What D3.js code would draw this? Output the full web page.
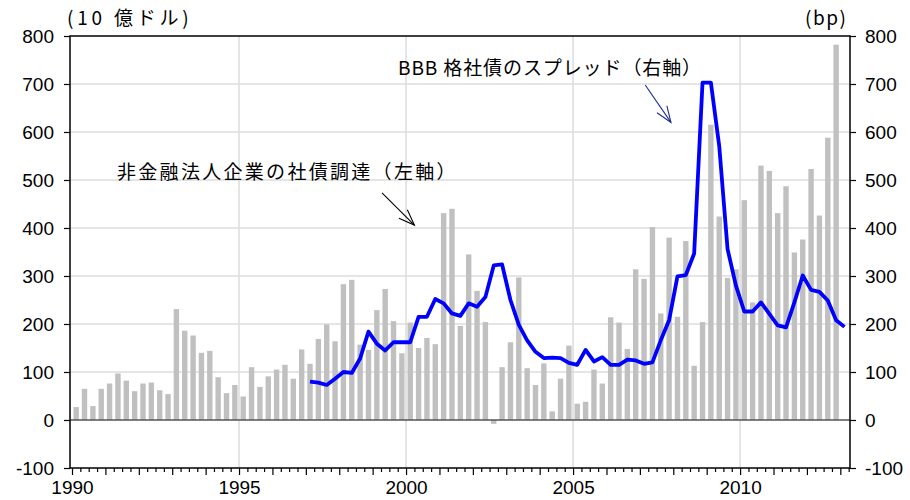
<!DOCTYPE html>
<html><head><meta charset="utf-8">
<script src="https://cdn.jsdelivr.net/npm/d3@7"></script>
<style>body{margin:0;background:#fff}svg{display:block}</style>
</head><body>
<script>
// Quarterly corporate bond issuance of nonfinancial corporations (left axis, $10 billion), 1990Q1..2012Q4
const barStartYear = 1990;
const bondFlows = [
  27, 65, 29, 65,   76, 97, 82, 60,   76, 78, 62, 54,   231, 186, 176, 140,
  144, 89, 56, 73,  49, 110, 69, 91,  105, 115, 86, 147, 117, 169, 199, 164,
  283, 292, 157, 146, 229, 273, 206, 139, 203, 150, 171, 158, 431, 440, 196, 345,
  269, 204, -8, 110, 162, 297, 108, 73, 118, 18, 86, 155, 34, 38, 105, 76,
  214, 203, 148, 314, 294, 402, 222, 380, 215, 373, 113, 204, 615, 424, 296, 314,
  458, 245, 530, 519, 431, 487, 349, 376, 523, 426, 588, 782
];
// BBB corporate bond spread (right axis, bp), 1997Q1..2013Q1
const lineStartYear = 1997;
const bbbSpread = [
  80, 78, 73, 86,  100, 98, 128, 184,  159, 145, 162, 162,  162, 215, 215, 252,
  243, 222, 217, 243, 236, 256, 322, 324, 250, 198, 166, 142, 129, 130, 129, 119,
  115, 146, 122, 131, 115, 115, 126, 124, 117, 120, 166, 208, 299, 302, 347, 703,
  703, 571, 356, 280, 226, 226, 245, 221, 197, 193, 245, 301, 271, 267, 249, 208,
  194
];
const yTicks = [-100, 0, 100, 200, 300, 400, 500, 600, 700, 800];
const gridYears = [1995, 2000, 2005, 2010];
const labelYears = [1990, 1995, 2000, 2005, 2010];
const leftUnit = "(10 億ドル)";
const rightUnit = "(bp)";
const lineLabel = "BBB 格社債のスプレッド（右軸）";
const barLabel = "非金融法人企業の社債調達（左軸）";

const W = 910, H = 500;
const L = 70, R = 850, T = 36, B = 468;
const svg = d3.select("body").append("svg").attr("width", W).attr("height", H)
  .style("font-family", "'Liberation Sans', Arial, sans-serif");

const x = d3.scaleLinear().domain([1989.94, 2013.29]).range([L, R]);
const y = d3.scaleLinear().domain([-100, 800]).range([B, T]);
const yR = d3.scaleLinear().domain([-100, 800]).range([B, T]);

// grid
svg.append("g").selectAll("line").data(yTicks.filter(d => d > 0 && d < 800)).join("line")
  .attr("x1", L).attr("x2", R).attr("y1", d => y(d)).attr("y2", d => y(d))
  .attr("stroke", "#dcdcdc").attr("stroke-width", 1.5);
svg.append("g").selectAll("line").data(gridYears).join("line")
  .attr("x1", d => x(d)).attr("x2", d => x(d)).attr("y1", T).attr("y2", B)
  .attr("stroke", "#dcdcdc").attr("stroke-width", 1.5);

// bars
const bw = 5.4;
svg.append("g").selectAll("rect").data(bondFlows).join("rect")
  .attr("x", (d, i) => x(barStartYear + (i + 0.5) / 4) - bw / 2)
  .attr("width", bw)
  .attr("y", d => y(Math.max(0, d)))
  .attr("height", d => Math.abs(y(d) - y(0)))
  .attr("fill", "#c0c0c0");

// zero line
svg.append("line").attr("x1", L).attr("x2", R).attr("y1", y(0)).attr("y2", y(0))
  .attr("stroke", "#555").attr("stroke-width", 1.6);

// spread line
const line = d3.line().x((d, i) => x(lineStartYear + (i + 0.5) / 4)).y(d => yR(d));
svg.append("path").datum(bbbSpread).attr("d", line)
  .attr("fill", "none").attr("stroke", "#0000ff").attr("stroke-width", 3.8)
  .attr("stroke-linejoin", "round");

// frame
svg.append("rect").attr("x", L).attr("y", T).attr("width", R - L).attr("height", B - T)
  .attr("fill", "none").attr("stroke", "#000").attr("stroke-width", 1.5);

// axes
const fs = 19;
const fmt = d => String(d);
const ax1 = svg.append("g").attr("transform", `translate(${L},0)`)
  .call(d3.axisLeft(y).tickValues(yTicks).tickSize(6).tickPadding(10).tickFormat(fmt));
const ax2 = svg.append("g").attr("transform", `translate(${R},0)`)
  .call(d3.axisRight(yR).tickValues(yTicks).tickSize(6).tickPadding(9).tickFormat(fmt));
const years = d3.range(1990, 2014);
const quarters = d3.range(1990, 2013.3, 0.25).filter(q => q % 1 !== 0 && q <= 2013.25);
const ax3 = svg.append("g").attr("transform", `translate(0,${B})`)
  .call(d3.axisBottom(x).tickValues(years).tickSize(7).tickPadding(6)
    .tickFormat(d => labelYears.includes(d) ? String(d) : ""));
const ax4 = svg.append("g").attr("transform", `translate(0,${B})`)
  .call(d3.axisBottom(x).tickValues(quarters).tickSize(4).tickFormat(""));
[ax1, ax2, ax3, ax4].forEach(a => {
  a.select(".domain").remove();
  a.selectAll("line").attr("stroke", "#000").attr("stroke-width", 1.2);
  a.selectAll("text").attr("font-size", fs).attr("fill", "#000")
    .style("font-family", "'Liberation Sans', Arial, sans-serif");
});

// units
const jp = "'Noto Sans CJK JP', sans-serif";
svg.append("text").attr("x", 67).attr("y", 25).attr("font-size", 19)
  .attr("letter-spacing", 3.8).style("font-family", jp).text(leftUnit);
svg.append("text").attr("x", 805).attr("y", 25).attr("font-size", 19)
  .attr("letter-spacing", 1.5).style("font-family", jp).text(rightUnit);

// annotations
svg.append("text").attr("x", 398).attr("y", 75).attr("font-size", 19)
  .attr("letter-spacing", 0.9).style("font-family", jp).text(lineLabel);
svg.append("text").attr("x", 117).attr("y", 179).attr("font-size", 19)
  .attr("letter-spacing", 2.3).style("font-family", jp).text(barLabel);

function arrow(x0, y0, x1, y1, color, w) {
  const ang = Math.atan2(y1 - y0, x1 - x0);
  const hl = 17, ha = 0.36;
  const g = svg.append("g").attr("stroke", color).attr("stroke-width", w).attr("fill", "none");
  g.append("line").attr("x1", x0).attr("y1", y0).attr("x2", x1).attr("y2", y1);
  g.append("polyline").attr("points", [
    [x1 - hl * Math.cos(ang - ha), y1 - hl * Math.sin(ang - ha)],
    [x1, y1],
    [x1 - hl * Math.cos(ang + ha), y1 - hl * Math.sin(ang + ha)]
  ].map(p => p.join(",")).join(" "));
}
arrow(x(2007.16), yR(698), x(2007.93), yR(620), "#1a2a9a", 1.1);
arrow(x(1999.28), y(473), x(2000.25), y(406), "#000", 1.1);
</script>
</body></html>
